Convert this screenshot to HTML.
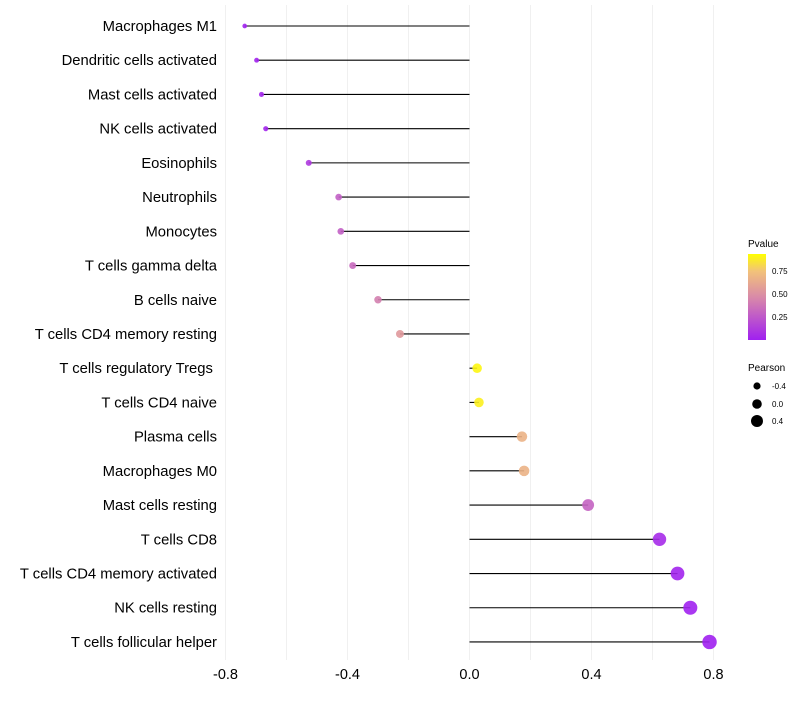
<!DOCTYPE html>
<html><head><meta charset="utf-8"><style>
body{margin:0;background:#fff}
svg text{font-family:"Liberation Sans",sans-serif}
</style></head><body>
<svg id="chart" width="800" height="700">
<defs><linearGradient id="pg" x1="0" y1="1" x2="0" y2="0">
<stop offset="0" stop-color="#a020f0"/><stop offset="0.5" stop-color="#d98aa8"/><stop offset="0.8" stop-color="#f2c27a"/><stop offset="1" stop-color="#ffff00"/></linearGradient></defs>
<g id="grid"></g><g id="marks"></g><g id="ylabels"></g><g id="xlabels"></g>
<g>
<text x="748" y="247" font-size="10">Pvalue</text>
<rect x="748" y="254" width="18" height="86" fill="url(#pg)"/>
<text x="772" y="274" font-size="8">0.75</text>
<text x="772" y="297" font-size="8">0.50</text>
<text x="772" y="320" font-size="8">0.25</text>
</g>
<g>
<text x="748" y="371" font-size="10">Pearson</text>
<circle cx="757" cy="386" r="3.6"/><text x="772" y="389" font-size="8">-0.4</text>
<circle cx="757" cy="404" r="4.8"/><text x="772" y="407" font-size="8">0.0</text>
<circle cx="757" cy="421" r="6"/><text x="772" y="424" font-size="8">0.4</text>
</g>
</svg>
<script>
const cells=["Macrophages M1","Dendritic cells activated","Mast cells activated","NK cells activated","Eosinophils","Neutrophils","Monocytes","T cells gamma delta","B cells naive","T cells CD4 memory resting","T cells regulatory  Tregs\u00a0","T cells CD4 naive","Plasma cells","Macrophages M0","Mast cells resting","T cells CD8","T cells CD4 memory activated","NK cells resting","T cells follicular helper"];
const pearson=[-0.737,-0.698,-0.682,-0.668,-0.527,-0.429,-0.422,-0.383,-0.30,-0.228,0.025,0.031,0.172,0.179,0.389,0.623,0.682,0.724,0.787];
const pvalue=[0.01,0.02,0.03,0.03,0.12,0.3,0.3,0.35,0.45,0.58,0.97,0.95,0.72,0.72,0.32,0.05,0.02,0.01,0.002];
const xticks=[-0.8,-0.4,0.0,0.4,0.8];
const xminor=[-0.6,-0.2,0.2,0.6];
const ns="http://www.w3.org/2000/svg";
const X=v=>469.5+v*305, Y=i=>26+i*34.22;
function mk(t,a,p){const e=document.createElementNS(ns,t);for(const k in a)e.setAttribute(k,a[k]);p.appendChild(e);return e;}
function lerp(a,b,t){return a.map((v,i)=>Math.round(v+(b[i]-v)*t));}
function col(p){const s=[[0,[160,32,240]],[0.5,[217,138,168]],[0.8,[242,194,122]],[1,[255,255,0]]];
for(let i=1;i<s.length;i++)if(p<=s[i][0]){const c=lerp(s[i-1][1],s[i][1],(p-s[i-1][0])/(s[i][0]-s[i-1][0]));return`rgb(${c})`;}return"rgb(255,255,0)";}
const g=document.getElementById('grid'),m=document.getElementById('marks'),yl=document.getElementById('ylabels'),xl=document.getElementById('xlabels');
xticks.concat(xminor).forEach(v=>{const l=mk('line',{x1:X(v),x2:X(v),y1:5,y2:660,stroke:'#f0f0f0','stroke-width':1},g);

});
xticks.forEach(v=>{const t=mk('text',{x:X(v),y:679,'font-size':14.5,'text-anchor':'middle'},xl);t.textContent=v.toFixed(1);

});
cells.forEach((c,i)=>{const t=mk('text',{x:217,y:Y(i)+5,'font-size':14.8,'text-anchor':'end'},yl);t.textContent=c;
t.setAttribute('xml:space','preserve');


const l=mk('line',{x1:X(0),x2:X(pearson[i]),y1:Y(i),y2:Y(i),stroke:'#000','stroke-width':1.1},m);


const d=mk('circle',{cx:X(pearson[i]),cy:Y(i),r:4.7+3.2*pearson[i],fill:col(pvalue[i]),'fill-opacity':0.9},m);

});
</script>
</body></html>
